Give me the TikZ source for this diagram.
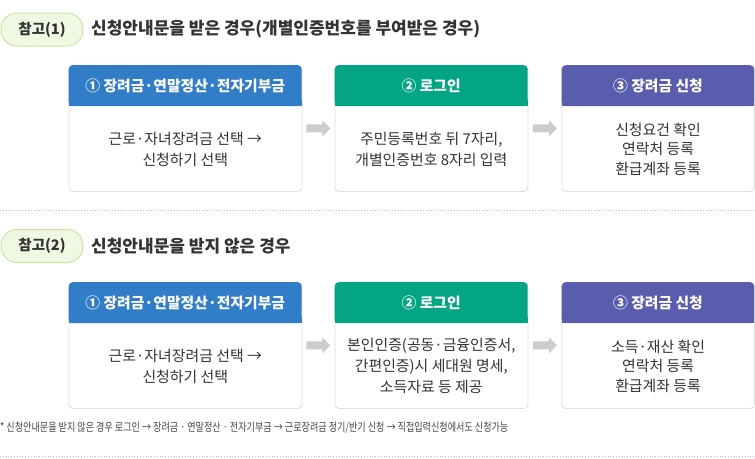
\documentclass[tikz,border=0pt]{standalone}
\usepackage{fontspec}
\setmainfont{Noto Sans CJK KR}
\newfontfamily\footfont[FakeStretch=0.79]{Noto Sans CJK KR}
\usetikzlibrary{calc}
\definecolor{txt}{RGB}{51,51,51}
\definecolor{foottxt}{RGB}{68,68,68}
\definecolor{bluec}{RGB}{50,125,200}
\definecolor{greenc}{RGB}{4,165,133}
\definecolor{purplec}{RGB}{90,93,173}
\definecolor{pillfill}{RGB}{240,248,228}
\definecolor{pilldraw}{RGB}{200,230,160}
\definecolor{arrowc}{RGB}{204,204,204}
\definecolor{boxdraw}{RGB}{221,221,221}
\definecolor{dotc}{RGB}{190,190,190}
\begin{document}
\begin{tikzpicture}[x=1pt,y=-1pt,
  pill/.style={draw=pilldraw,fill=pillfill,line width=1pt,rounded corners=16pt,minimum width=82pt,minimum height=33pt,inner sep=0pt,font=\bfseries\fontsize{14.5}{16}\selectfont,text=txt},
  heading/.style={anchor=west,inner sep=0pt,font=\bfseries\fontsize{17}{19}\selectfont,text=txt},
  boxframe/.style={draw=boxdraw,fill=white,line width=0.8pt,rounded corners=4pt,anchor=north west,inner sep=0pt},
  hdr/.style={rounded corners=4pt,anchor=north west,inner sep=0pt,minimum height=41pt,text=white,font=\bfseries\fontsize{14.8}{16}\selectfont},
  bodytwo/.style={align=center,text=txt,inner sep=0pt,font=\fontsize{14.9}{21}\selectfont},
  bodythree/.style={align=center,text=txt,inner sep=0pt,font=\fontsize{14.9}{19.5}\selectfont},
  foot/.style={anchor=west,inner sep=0pt,text=foottxt,font=\footfont\fontsize{11.5}{13}\selectfont},
  sepline/.style={draw=dotc,dotted,line width=0.8pt}
]
\useasboundingbox (0,0) rectangle (755,458);

% box macro: name, x1, width, top, height, color, header, body, bodystyle
\newcommand{\mkbox}[9]{%
  \node[boxframe,minimum width=#3pt,minimum height=#5pt] (#1) at (#2,#4) {};
  \node[hdr,fill=#6,minimum width=#3pt] (#1h) at (#2,#4) {#7};
  \fill[#6] ($(#1h.south west)+(0,-6)$) rectangle (#1h.south east);
  \node[#9] (#1t) at ($(#1h.south)!0.5!(#1.south)$) {#8};
}
\newcommand{\blockarrow}[1]{%
  \fill[arrowc] ($(#1)+(-12,-4)$) -- ++(16,0) -- ++(0,-4) -- ++(8,8) -- ++(-8,8) -- ++(0,-4) -- ++(-16,0) -- cycle;
}

% ---- section 1
\node[pill] (p1) at (42,29.5) {참고(1)};
\node[heading] (h1) at (91,29.5) {신청안내문을 받은 경우(개별인증번호를 부여받은 경우)};

\mkbox{a1}{68.5}{233}{65}{126}{bluec}{① 장려금·연말정산·전자기부금}{근로·자녀장려금 선택 →\\신청하기 선택}{bodytwo}
\mkbox{a2}{334.5}{193}{65}{126}{greenc}{② 로그인}{주민등록번호 뒤 7자리,\\개별인증번호 8자리 입력}{bodytwo}
\mkbox{a3}{561.5}{192.5}{65}{126}{purplec}{③ 장려금 신청}{신청요건 확인\\연락처 등록\\환급계좌 등록}{bodythree}

\coordinate (ar1) at ($(a1.east)!0.5!(a2.west)$);
\coordinate (ar2) at ($(a2.east)!0.5!(a3.west)$);
\blockarrow{ar1}
\blockarrow{ar2}

\coordinate (s1l) at (0,210.5);
\coordinate (s1r) at (755,210.5);
\draw[sepline] (s1l) -- (s1r);

% ---- section 2
\node[pill] (p2) at (42,246) {참고(2)};
\node[heading] (h2) at (91,246) {신청안내문을 받지 않은 경우};

\mkbox{b1}{68.5}{233}{282}{126}{bluec}{① 장려금·연말정산·전자기부금}{근로·자녀장려금 선택 →\\신청하기 선택}{bodytwo}
\mkbox{b2}{334.5}{193}{282}{126}{greenc}{② 로그인}{본인인증(공동·금융인증서,\\간편인증)시 세대원 명세,\\소득자료 등 제공}{bodytwo}
\mkbox{b3}{561.5}{192.5}{282}{126}{purplec}{③ 장려금 신청}{소득·재산 확인\\연락처 등록\\환급계좌 등록}{bodythree}

\coordinate (br1) at ($(b1.east)!0.5!(b2.west)$);
\coordinate (br2) at ($(b2.east)!0.5!(b3.west)$);
\blockarrow{br1}
\blockarrow{br2}

\node[foot] (fn) at (0,428) {* 신청안내문을 받지 않은 경우 로그인 → 장려금 · 연말정산 · 전자기부금 → 근로장려금 정기/반기 신청 → 직접입력신청에서도 신청가능};

\coordinate (s2l) at (0,456.5);
\coordinate (s2r) at (755,456.5);
\draw[sepline] (s2l) -- (s2r);
\end{tikzpicture}
\end{document}
